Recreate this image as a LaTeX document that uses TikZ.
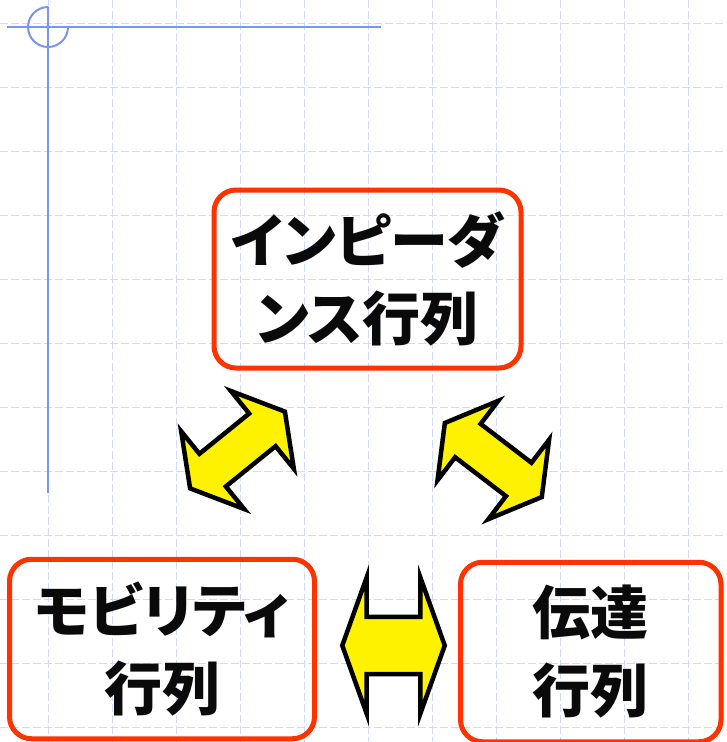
\documentclass[tikz,border=0pt]{standalone}
\usepackage{fontspec}
\newfontfamily\jpfont{Noto Sans CJK JP}[BoldFont=* Black, RawFeature=+palt]
\usetikzlibrary{positioning}
\definecolor{bordo}{RGB}{255,51,0}
\definecolor{griglia}{RGB}{208,218,250}
\definecolor{mira}{RGB}{120,150,240}

\begin{document}
\begin{tikzpicture}[x=1pt, y=-1pt,
    riquadro/.style={draw=bordo, line width=5pt, rounded corners=22pt, align=center,
        font=\jpfont\bfseries\fontsize{58}{78}\selectfont, text=black!96},
    freccia/.style={draw=black, fill=yellow, line width=4.5pt, line join=miter},
    pics/frecciadoppia/.style={code={
        \draw[freccia] (61,0) -- (32,50) -- (32,21) -- (-32,21) -- (-32,50) -- (-61,0)
            -- (-32,-50) -- (-32,-21) -- (32,-21) -- (32,-50) -- cycle;}}]
    \useasboundingbox (0,0) rectangle (726,742);
    %griglia
    \foreach \gx in {48,112,...,688}
        \draw[griglia, dash pattern=on 8pt off 3pt, line width=1pt] (\gx,0) -- (\gx,742);
    \foreach \gy in {23,87,...,727}
        \draw[griglia, dash pattern=on 8pt off 3pt, line width=1pt] (0,\gy) -- (726,\gy);
    %mirino in alto a sinistra
    \draw[mira, line width=2pt] (7,27) -- (381,27);
    \draw[mira, line width=2pt] (48,7) -- (48,493);
    \draw[mira, line width=2pt] (48,7) arc[start angle=270, end angle=0, radius=20];
    %riquadri
    \node[riquadro, minimum width=307pt, minimum height=178pt] (impedenza) at (367.5,279)
        {インピーダ\\ンス行列};
    \node[riquadro, minimum width=305pt, minimum height=179.5pt] (mobilita) at (162,649)
        {モビリティ\\行列};
    \node[riquadro, minimum width=260.5pt, minimum height=179.5pt] (trasferimento) at (590.75,652)
        {伝達\\行列};
    %frecce
    \pic[rotate=39] at (237.5,450) {frecciadoppia};
    \pic[rotate=-37.4] at (493.3,460) {frecciadoppia};
    \pic[xscale=0.84, yscale=1.36] at (393.5,645.5) {frecciadoppia};
\end{tikzpicture}
\end{document}
